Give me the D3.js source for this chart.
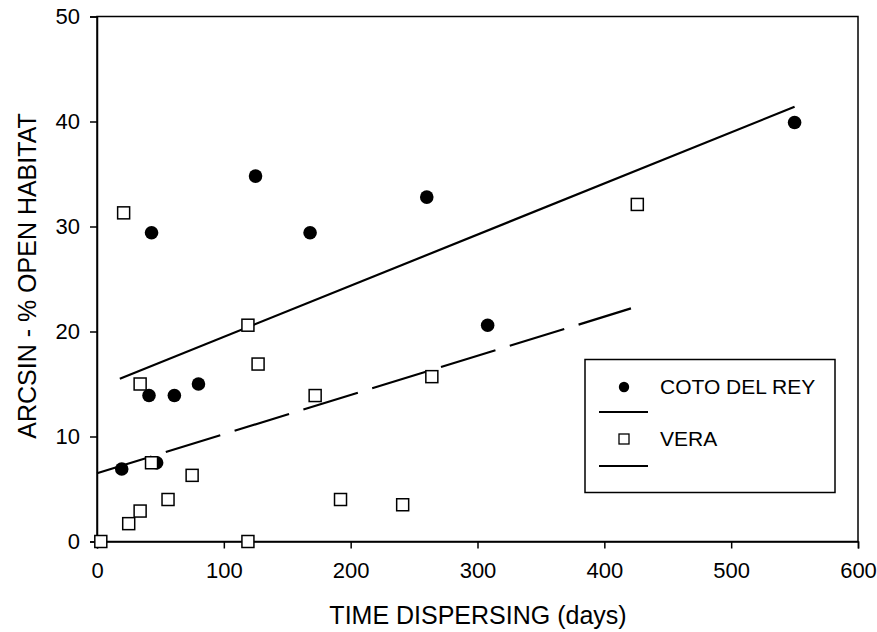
<!DOCTYPE html>
<html>
<head>
<meta charset="utf-8">
<script src="https://cdn.jsdelivr.net/npm/d3@7"></script>
<style>
	body { margin: 0; background: #fff; }
	text { font-family: "Liberation Sans", Arial, sans-serif; fill: #000; }
</style>
</head>
<body>
<div id="chart"></div>
<script>
// Coto del Rey (filled circles): days, arcsin %
let cotoDays  = [19.5, 47, 41, 61, 80, 43, 125, 168, 260, 308, 550];
let cotoValue = [6.9, 7.5, 13.9, 13.9, 15.0, 29.4, 34.8, 29.4, 32.8, 20.6, 39.9];

// Vera (open squares)
let veraDays  = [3, 119, 25, 34, 43, 21, 34, 56, 75, 119, 127, 172, 192, 241, 264, 426];
let veraValue = [0, 0, 1.7, 2.9, 7.5, 31.3, 15.0, 4.0, 6.3, 20.6, 16.9, 13.9, 4.0, 3.5, 15.7, 32.1];

// fitted lines (start, end)
let cotoFit = [[18, 15.5], [550, 41.4]];
let veraFit = [[0, 6.5], [421, 22.2]];

let xTicks = [0, 100, 200, 300, 400, 500, 600];
let yTicks = [0, 10, 20, 30, 40, 50];

let width = 877, height = 632;
let plotLeft = 97, plotRight = 858, plotTop = 16.5, plotBottom = 541.5;

let svg = d3.select("#chart").append("svg")
	.attr("width", width)
	.attr("height", height);

let x = d3.scaleLinear().domain([0, 600]).range([plotLeft, plotRight]);
let y = d3.scaleLinear().domain([0, 50]).range([plotBottom, plotTop]);

// Frame
svg.append("rect")
	.attr("x", plotLeft).attr("y", plotTop)
	.attr("width", plotRight - plotLeft).attr("height", plotBottom - plotTop)
	.attr("fill", "none").attr("stroke", "#000").attr("stroke-width", 1.5);

// Axes
let xAxis = svg.append("g")
	.attr("transform", `translate(0,${plotBottom})`)
	.call(d3.axisBottom(x).tickValues(xTicks).tickSize(7).tickPadding(14));

let yAxis = svg.append("g")
	.attr("transform", `translate(${plotLeft},0)`)
	.call(d3.axisLeft(y).tickValues(yTicks).tickSize(7).tickPadding(10));

[xAxis, yAxis].forEach(a => {
	a.select(".domain").attr("stroke-width", 1.5);
	a.selectAll(".tick line").attr("stroke-width", 1.5);
	a.selectAll(".tick text")
		.style("font-size", "22px")
		.style("font-family", "'Liberation Sans', Arial, sans-serif");
});

// Axis titles
svg.append("text")
	.attr("x", 478)
	.attr("y", 624)
	.attr("text-anchor", "middle")
	.style("font-size", "25px")
	.text("TIME DISPERSING (days)");

svg.append("text")
	.attr("transform", `translate(36,276) rotate(-90)`)
	.attr("text-anchor", "middle")
	.style("font-size", "25px")
	.text("ARCSIN - % OPEN HABITAT");

// Regression lines
let line = d3.line().x(d => x(d[0])).y(d => y(d[1]));

svg.append("path")
	.datum(cotoFit)
	.attr("d", line)
	.attr("fill", "none").attr("stroke", "#000").attr("stroke-width", 2.2);

svg.append("path")
	.datum(veraFit)
	.attr("d", line)
	.attr("fill", "none").attr("stroke", "#000").attr("stroke-width", 2.2)
	.attr("stroke-dasharray", "57,15");

// Points
let coto = cotoDays.map((d, i) => [d, cotoValue[i]]);
let vera = veraDays.map((d, i) => [d, veraValue[i]]);

svg.append("g").selectAll("circle")
	.data(coto)
	.enter().append("circle")
	.attr("cx", d => x(d[0]))
	.attr("cy", d => y(d[1]))
	.attr("r", 6.8)
	.attr("fill", "#000");

let sq = 12;
svg.append("g").selectAll("rect")
	.data(vera)
	.enter().append("rect")
	.attr("x", d => x(d[0]) - sq / 2)
	.attr("y", d => y(d[1]) - sq / 2)
	.attr("width", sq).attr("height", sq)
	.attr("fill", "#fff").attr("stroke", "#000").attr("stroke-width", 1.5);

// Legend
let legend = svg.append("g");

legend.append("rect")
	.attr("x", 585).attr("y", 359.5)
	.attr("width", 250).attr("height", 133)
	.attr("fill", "#fff").attr("stroke", "#000").attr("stroke-width", 1.5);

legend.append("circle")
	.attr("cx", 624).attr("cy", 387).attr("r", 5.2).attr("fill", "#000");
legend.append("text")
	.attr("x", 660).attr("y", 394)
	.style("font-size", "21px")
	.text("COTO DEL REY");
legend.append("line")
	.attr("x1", 599).attr("x2", 648).attr("y1", 412).attr("y2", 412)
	.attr("stroke", "#000").attr("stroke-width", 2.2);

legend.append("rect")
	.attr("x", 619).attr("y", 434).attr("width", 10).attr("height", 10)
	.attr("fill", "#fff").attr("stroke", "#000").attr("stroke-width", 1.3);
legend.append("text")
	.attr("x", 660).attr("y", 446)
	.style("font-size", "21px")
	.text("VERA");
legend.append("line")
	.attr("x1", 599).attr("x2", 648).attr("y1", 466).attr("y2", 466)
	.attr("stroke", "#000").attr("stroke-width", 2.2);
</script>
</body>
</html>
